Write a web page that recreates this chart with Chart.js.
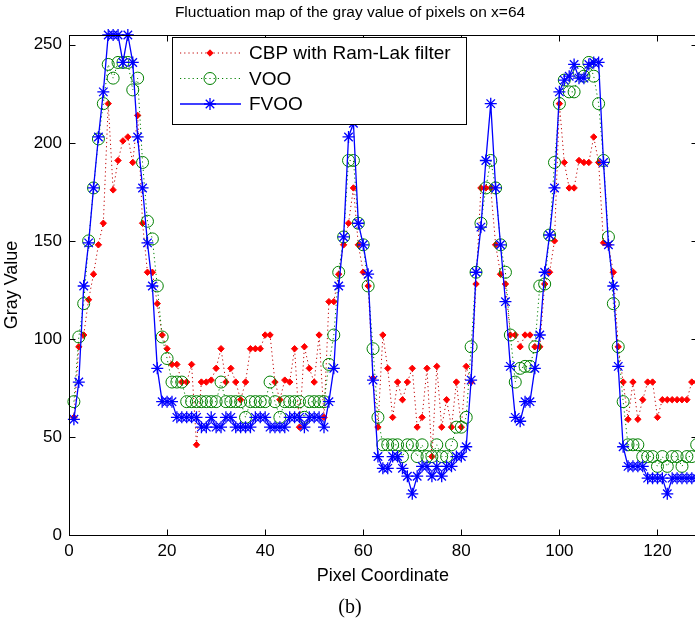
<!DOCTYPE html>
<html>
<head>
<meta charset="utf-8">
<script src="https://cdn.jsdelivr.net/npm/chart.js@4.4.1/dist/chart.umd.min.js"></script>
<style>
html,body{margin:0;padding:0;overflow:hidden;background:#fff;}
#wrap{width:704px;height:625px;}
</style>
</head>
<body>
<div id="wrap"><canvas id="c" width="704" height="625"></canvas></div>
<script>
// ---- data ----
const pixelCoord = Array.from({length:128}, (_, i) => i + 1);

const cbp = [
  60,96,102,120,133,148,159,220,176,191,
  201,203,190,214,159,134,134,118,102,95,
  87,87,78,78,87,46,78,78,79,85,
  95,78,85,78,69,78,95,95,95,102,
  102,78,69,79,78,95,55,96,85,78,
  102,60,119,119,133,148,159,177,148,134,
  127,80,55,102,85,60,78,69,78,85,
  55,60,85,40,86,55,69,55,78,55,
  86,78,128,177,177,177,148,133,128,102,
  102,96,102,102,96,96,128,134,150,220,
  190,177,177,191,190,190,203,190,149,148,
  134,96,78,59,78,59,69,78,78,60,
  69,69,69,69,69,69,78,78
];

const voo = [
  68,101,118,150,177,202,220,240,233,241,
  241,241,227,233,190,160,151,127,101,90,
  78,78,78,68,68,68,68,68,68,68,
  78,68,68,68,68,60,68,68,68,68,
  78,68,60,68,68,68,68,60,68,68,
  68,68,87,102,134,152,191,191,159,148,
  127,95,60,46,46,46,46,40,46,46,
  40,46,40,40,46,40,40,46,55,55,
  60,96,134,159,177,191,177,148,134,102,
  78,85,86,86,96,127,128,153,190,220,
  232,226,226,236,234,241,234,220,191,152,
  118,96,68,46,46,46,40,40,40,35,
  40,35,40,40,35,40,40,46
];

const fvoo = [
  59,78,127,149,177,203,226,255,255,255,
  241,255,241,203,177,149,127,85,68,68,
  68,60,60,60,60,60,55,55,60,55,
  55,60,60,55,55,55,55,60,60,60,
  55,55,55,55,60,60,60,55,60,60,
  60,55,68,85,127,152,203,210,159,148,
  133,79,40,34,34,40,40,34,30,21,
  30,35,35,30,35,30,35,35,40,40,
  45,79,134,157,191,220,177,148,119,86,
  60,58,68,68,85,102,134,153,177,226,
  232,234,240,233,233,240,241,241,190,148,
  127,86,45,35,35,35,35,29,29,29,
  29,21,29,29,29,29,29,29
];

const xTicks = [0,20,40,60,80,100,120];
const yTicks = [0,50,100,150,200,250];
const seriesNames = ['CBP with Ram-Lak filter','VOO','FVOO'];
const chartTitle = 'Fluctuation map of the gray value of pixels on x=64';
const xTitle = 'Pixel Coordinate';
const yTitle = 'Gray Value';
const caption = '(b)';

// ---- chart ----
const FAM = '"Liberation Sans", Arial, Helvetica, sans-serif';
const toPts = arr => arr.map((v, i) => ({x: pixelCoord[i], y: v}));

function drawMarker(ctx, style, r, x, y) {
  if (window.Chart && Chart.helpers && Chart.helpers.drawPoint) {
    Chart.helpers.drawPoint(ctx, {pointStyle: style, radius: r, borderWidth: ctx.lineWidth, rotation: 0}, x, y);
    return;
  }
  ctx.beginPath();
  if (style === 'circle') { ctx.arc(x, y, r, 0, Math.PI*2); ctx.stroke(); }
  else if (style === 'rectRot') { ctx.moveTo(x, y-r); ctx.lineTo(x+r, y); ctx.lineTo(x, y+r); ctx.lineTo(x-r, y); ctx.closePath(); ctx.fill(); ctx.stroke(); }
  else { const d = r*0.7071; ctx.moveTo(x-r,y);ctx.lineTo(x+r,y);ctx.moveTo(x,y-r);ctx.lineTo(x,y+r);ctx.moveTo(x-d,y-d);ctx.lineTo(x+d,y+d);ctx.moveTo(x-d,y+d);ctx.lineTo(x+d,y-d);ctx.stroke(); }
}

const framePlugin = {
  id: 'frame',
  afterDraw(chart) {
    const {ctx, chartArea, scales} = chart;
    const L = Math.round(chartArea.left) + 0.5, R = Math.round(chartArea.right) + 0.5;
    const T = Math.round(chartArea.top) + 0.5, B = Math.round(chartArea.bottom) + 0.5;
    ctx.save();
    ctx.strokeStyle = '#000'; ctx.lineWidth = 1; ctx.setLineDash([]);
    ctx.strokeRect(L, T, R - L, B - T);
    const tl = 6;
    ctx.beginPath();
    xTicks.forEach(v => {
      const px = Math.round(scales.x.getPixelForValue(v)) + 0.5;
      ctx.moveTo(px, B); ctx.lineTo(px, B - tl);
      ctx.moveTo(px, T); ctx.lineTo(px, T + tl);
    });
    yTicks.forEach(v => {
      const py = Math.round(scales.y.getPixelForValue(v)) + 0.5;
      ctx.moveTo(L, py); ctx.lineTo(L + tl, py);
      ctx.moveTo(R, py); ctx.lineTo(R - tl, py);
    });
    ctx.stroke();
    ctx.restore();
  }
};

const legendPlugin = {
  id: 'boxLegend',
  afterDraw(chart) {
    const ctx = chart.ctx;
    ctx.save();
    const bx = 172.5, by = 37.5, bw = 294, bh = 87;
    ctx.fillStyle = '#fff'; ctx.fillRect(bx, by, bw, bh);
    ctx.strokeStyle = '#000'; ctx.lineWidth = 1; ctx.setLineDash([]);
    ctx.strokeRect(bx, by, bw, bh);
    chart.data.datasets.forEach((ds, i) => {
      const yy = 53 + i * 25.5;
      ctx.save();
      ctx.strokeStyle = ds.borderColor; ctx.lineWidth = ds.borderWidth;
      ctx.setLineDash(ds.borderDash || []);
      ctx.beginPath(); ctx.moveTo(180, yy); ctx.lineTo(241, yy); ctx.stroke();
      ctx.restore();
      ctx.save();
      ctx.setLineDash([]);
      ctx.fillStyle = ds.pointBackgroundColor; ctx.strokeStyle = ds.pointBorderColor;
      ctx.lineWidth = ds.pointBorderWidth;
      drawMarker(ctx, ds.pointStyle, ds.pointRadius, 210, yy);
      ctx.restore();
      ctx.fillStyle = '#000'; ctx.font = '19px ' + FAM;
      ctx.textBaseline = 'middle'; ctx.textAlign = 'left';
      ctx.fillText(ds.label, 249, yy + 1);
    });
    ctx.restore();
  }
};

new Chart(document.getElementById('c'), {
  type: 'line',
  data: {
    datasets: [
      {label: seriesNames[0], data: toPts(cbp), borderColor: '#c00000', borderWidth: 1, borderDash: [1.2, 3],
       pointStyle: 'rectRot', pointRadius: 3.2, pointBackgroundColor: '#ff0000', pointBorderColor: '#ff0000',
       pointBorderWidth: 1, order: 3, clip: false, tension: 0},
      {label: seriesNames[1], data: toPts(voo), borderColor: '#008000', borderWidth: 1, borderDash: [1.2, 3],
       pointStyle: 'circle', pointRadius: 6, pointBackgroundColor: 'rgba(0,0,0,0)', pointBorderColor: '#008000',
       pointBorderWidth: 1, order: 2, clip: false, tension: 0},
      {label: seriesNames[2], data: toPts(fvoo), borderColor: '#0000ff', borderWidth: 1.3,
       pointStyle: 'star', pointRadius: 6, pointBackgroundColor: '#0000ff', pointBorderColor: '#0000ff',
       pointBorderWidth: 1.3, order: 1, clip: false, tension: 0}
    ]
  },
  options: {
    responsive: false, animation: false, devicePixelRatio: 1,
    layout: {padding: {left: 0, right: 4, top: 0, bottom: 0}},
    plugins: {
      legend: {display: false},
      tooltip: {enabled: false},
      title: {display: true, text: chartTitle, color: '#000',
              font: {family: FAM, size: 15.5, weight: 'normal'}, padding: {top: 3, bottom: 13.4}},
      subtitle: {display: true, position: 'bottom', text: caption, color: '#000',
                 font: {family: '"Liberation Serif", "DejaVu Serif", serif', size: 20, weight: 'normal'},
                 padding: {top: 0, bottom: 5}}
    },
    scales: {
      x: {
        type: 'linear', min: 0, max: 128,
        grid: {display: false, drawTicks: false}, border: {display: false},
        ticks: {color: '#000', font: {family: FAM, size: 17}, padding: 6, maxRotation: 0, autoSkip: false},
        afterBuildTicks: s => { s.ticks = xTicks.map(v => ({value: v})); },
        afterFit: s => { s.height = 61; },
        title: {display: true, text: xTitle, color: '#000', font: {family: FAM, size: 18}, padding: {top: 0, bottom: 9}}
      },
      y: {
        type: 'linear', min: 0, max: 255,
        grid: {display: false, drawTicks: false}, border: {display: false},
        ticks: {color: '#000', font: {family: FAM, size: 17}, padding: 7, autoSkip: false},
        afterBuildTicks: s => { s.ticks = yTicks.map(v => ({value: v})); },
        afterFit: s => { s.width = 69; },
        title: {display: true, text: yTitle, color: '#000', font: {family: FAM, size: 18}, padding: {top: 1, bottom: 0}}
      }
    }
  },
  plugins: [framePlugin, legendPlugin]
});
</script>
</body>
</html>
